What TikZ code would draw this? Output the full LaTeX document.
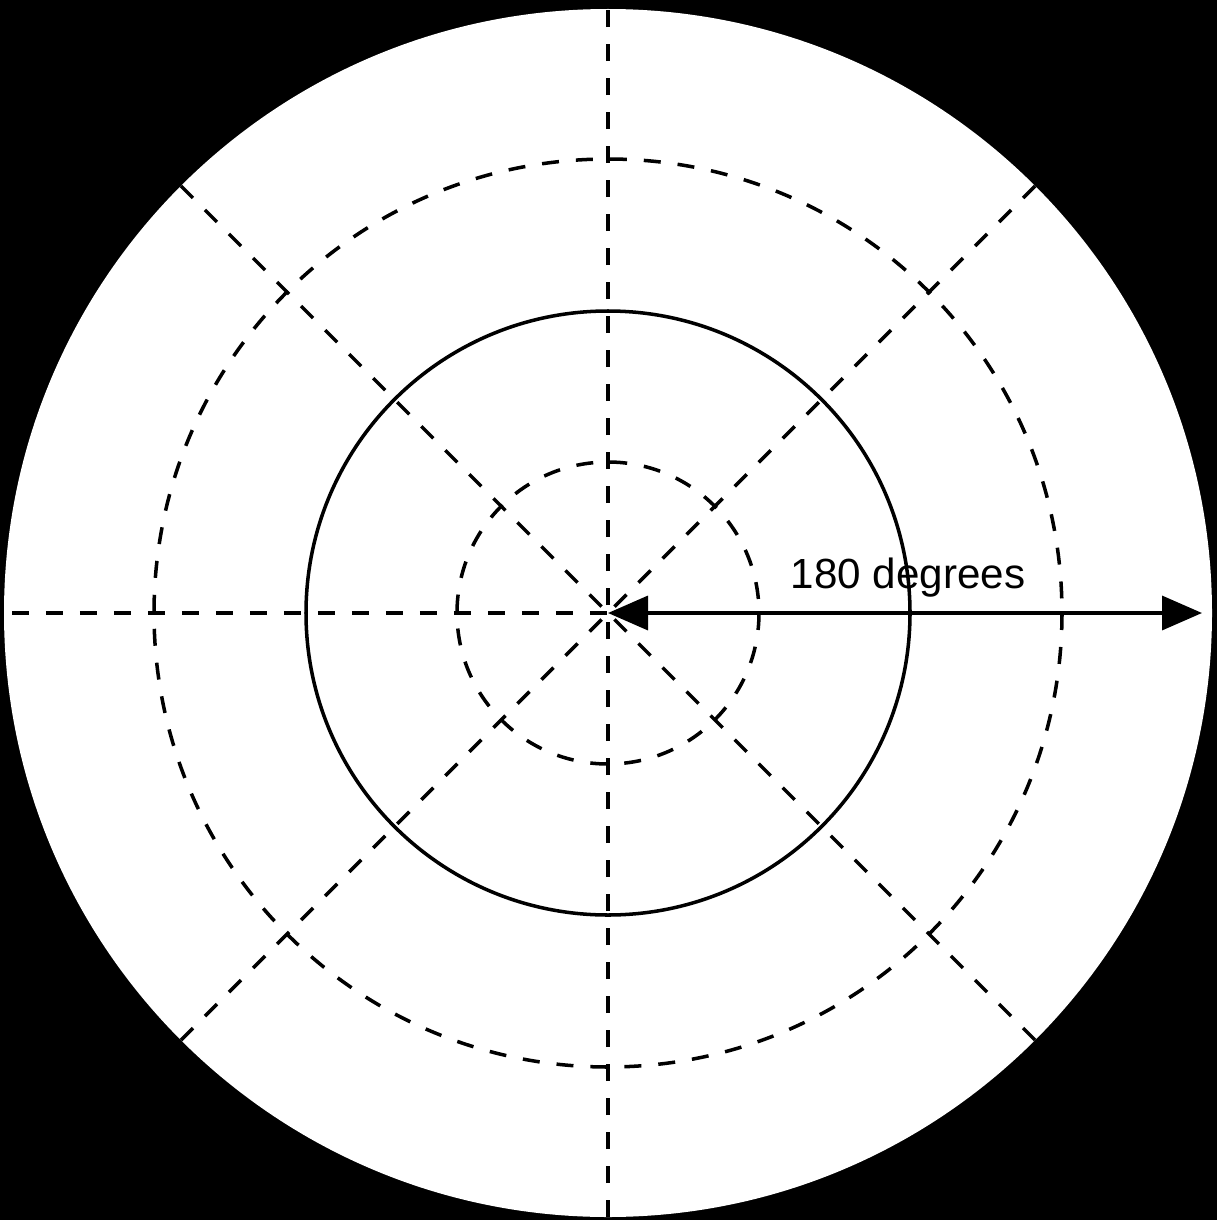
\documentclass[tikz,border=0pt]{standalone}
\usepackage{fontspec}
\setmainfont{Liberation Sans}
\usetikzlibrary{arrows.meta}
\tikzset{
  ring/.style={draw=black, line width=2pt, dash pattern=on 0.34cm off 0.34cm},
  rim/.style={draw=black, line width=2pt},
  spoke/.style={draw=black, line width=2pt, dash pattern=on 0.34cm off 0.34cm},
  span/.style={{Triangle[length=0.8cm, width=0.68cm]}-{Triangle[length=0.8cm, width=0.68cm]}, line width=2pt, draw=black},
  tag/.style={font=\fontsize{24}{28}\selectfont, inner sep=0pt}
}
\begin{document}
\begin{tikzpicture}[x=0.02cm, y=-0.02cm]
  \fill[black] (0,0) rectangle (1217,1220);
  \coordinate (c) at (608,613);
  \fill[white] (c) circle[radius=604];

  % rings
  \draw[ring] (c) circle[radius=151];
  \draw[rim] (c) circle[radius=302];
  \draw[ring] (c) circle[radius=454];

  % spokes
  \coordinate (n) at ([shift={(90:604)}]c);
  \coordinate (s) at ([shift={(270:604)}]c);
  \coordinate (w) at ([shift={(180:596)}]c);
  \draw[spoke] (n) -- (s);
  \draw[spoke] (w) -- (c);
  \foreach \a in {45,135,225,315}
    \draw[spoke] ([shift={(\a:604)}]c) -- (c);

  % radius arrow
  \coordinate (tip) at (1202,613);
  \draw[span] (c) -- (tip);
  \node[tag] (lbl) at (908,578) {180 degrees};
\end{tikzpicture}
\end{document}
